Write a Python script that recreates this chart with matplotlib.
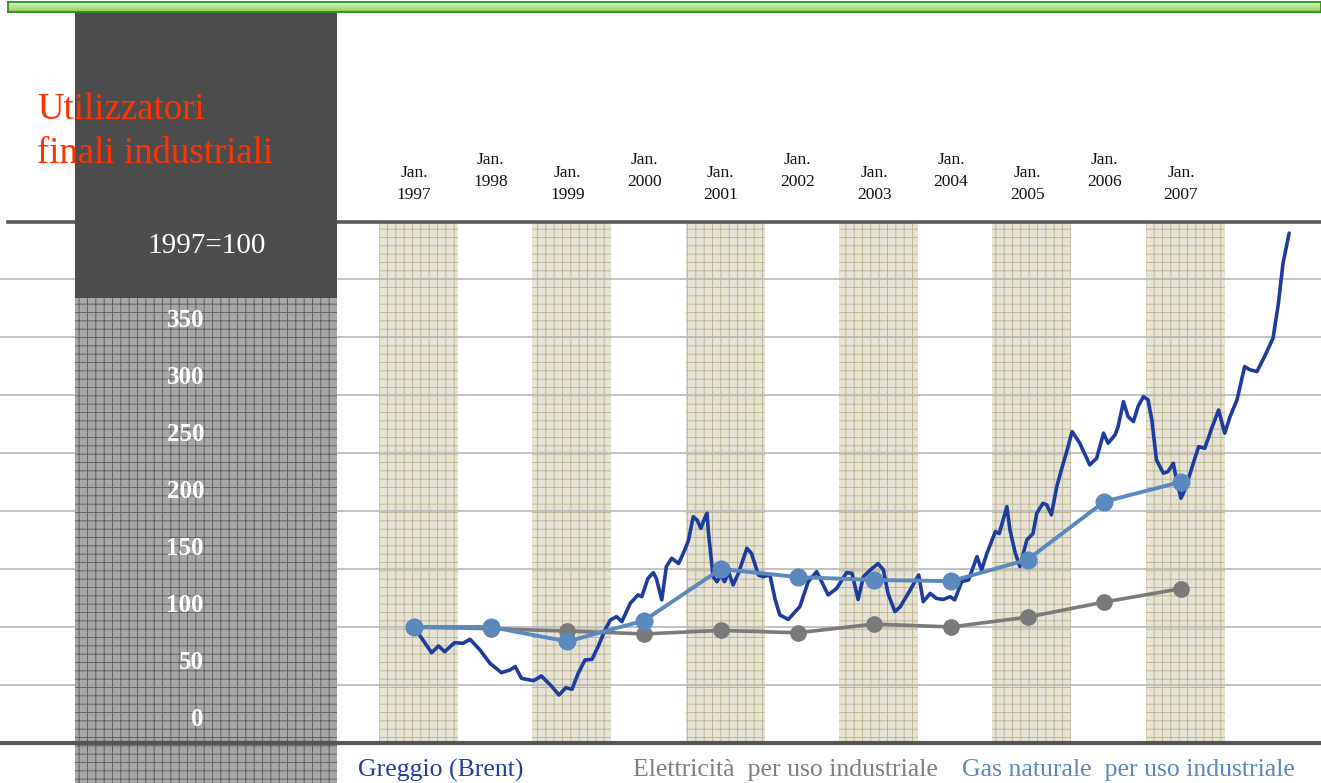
import matplotlib
matplotlib.use("Agg")
import numpy as np
import matplotlib.pyplot as plt
import matplotlib.transforms as mtrans
from matplotlib.patches import Rectangle
from matplotlib.lines import Line2D

plt.rcParams['font.family'] = ['Liberation Serif', 'DejaVu Serif']
plt.rcParams['hatch.linewidth'] = 0.65

# ---- data (1997 = 100) ----
years = [1997, 1998, 1999, 2000, 2001, 2002, 2003, 2004, 2005, 2006, 2007]
elettricita = [100, 98.5, 96.5, 94, 97, 95, 102.5, 100, 108.5, 121.5, 133]
gas_naturale = [100, 100, 87.5, 105.5, 150, 143, 140.5, 139.5, 158, 208, 225]

brent_year = [1997.00, 1997.23, 1997.32, 1997.40, 1997.53, 1997.64, 1997.73, 1997.86, 1997.99,
              1998.14, 1998.25, 1998.32, 1998.40, 1998.47, 1998.56, 1998.66, 1998.80, 1998.89, 1998.98,
              1999.06, 1999.14, 1999.23, 1999.32, 1999.40, 1999.49, 1999.56, 1999.64, 1999.71, 1999.82,
              1999.92, 1999.97, 2000.05, 2000.12, 2000.16, 2000.23, 2000.29, 2000.36, 2000.45, 2000.53,
              2000.58, 2000.64, 2000.69, 2000.74, 2000.79, 2000.82, 2000.84, 2000.90, 2000.95, 2001.00,
              2001.05, 2001.10, 2001.16, 2001.23, 2001.34, 2001.40, 2001.49, 2001.55, 2001.64, 2001.71,
              2001.77, 2001.88, 2002.03, 2002.14, 2002.25, 2002.40, 2002.51, 2002.64, 2002.71, 2002.79,
              2002.86, 2002.95, 2003.05, 2003.12, 2003.18, 2003.27, 2003.34, 2003.47, 2003.58, 2003.64,
              2003.73, 2003.81, 2003.90, 2003.99, 2004.05, 2004.14, 2004.23, 2004.34, 2004.40, 2004.47,
              2004.58, 2004.63, 2004.73, 2004.77, 2004.84, 2004.90, 2004.99, 2005.07, 2005.12, 2005.20,
              2005.25, 2005.31, 2005.38, 2005.44, 2005.51, 2005.58, 2005.68, 2005.81, 2005.90, 2005.99,
              2006.05, 2006.14, 2006.18, 2006.25, 2006.31, 2006.38, 2006.44, 2006.51, 2006.57, 2006.62,
              2006.68, 2006.77, 2006.83, 2006.90, 2006.94, 2007.00, 2007.05, 2007.12, 2007.16, 2007.23,
              2007.31, 2007.40, 2007.49, 2007.57, 2007.64, 2007.73, 2007.83, 2007.90, 2007.99, 2008.10,
              2008.20, 2008.27, 2008.33, 2008.41]
brent_val = [100, 77.8, 83.6, 78.7, 86.5, 85.9, 89.4, 80.2, 68.7,
             60.6, 62.9, 65.8, 55.8, 54.8, 53.7, 57.8, 48.5, 41.4, 47.7,
             46.3, 60.0, 71.6, 72.1, 83.0, 97.4, 106, 108.9, 104.6, 120.4,
             127.6, 126.1, 141.8, 146.8, 141.8, 123.3, 152, 159.2, 154.7, 166.4,
             175, 195, 192.2, 185, 193.7, 198, 180.5, 143.4, 139, 144.8,
             139, 147.7, 136.2, 146.3, 167.8, 163.5, 144.8, 143.4, 144.8, 123.3,
             110.3, 106.5, 117.5, 139, 147.7, 127.6, 133.2, 146.8, 146.3, 123.7,
             143.4, 149.1, 154.7, 149.1, 128.9, 113.2, 117.5, 131.9, 144.8, 121.8,
             128.9, 124.6, 123.7, 126.1, 123.3, 139, 140.5, 160.6, 149.1, 163.5,
             182.2, 180.5, 203.7, 183.6, 163.5, 152, 175, 180.5, 198, 206.6,
             205.2, 196.6, 220.9, 235.3, 251.1, 268.4, 258.4, 239.7, 245.4, 267,
             258.4, 265.5, 272.7, 294.2, 281.3, 277, 290, 298.5, 295.7, 278.4,
             244, 232.5, 233.9, 241.1, 226.7, 211, 218.1, 232.5, 241.1, 255.4,
             254, 271.2, 287, 267, 281.3, 295.7, 324.4, 321.6, 320.1, 334.5,
             348.9, 379, 413.4, 439.4]

y_ticks = [0, 50, 100, 150, 200, 250, 300, 350]
band_years = [1997, 1999, 2001, 2003, 2005, 2007]

c_brent = '#1e3c9e'
c_elet = '#7a7a7a'
c_gas = '#5b88bd'

W, H = 1321, 783
fig = plt.figure(figsize=(W / 100, H / 100), dpi=100)

# ---- main plot ----
ax = fig.add_axes([0, 40 / H, 1, 521 / H])
ax.set_zorder(0)
ax.set_xlim(1997 - 414 / 76.7, 1997 + (W - 414) / 76.7)
ax.set_ylim(0, 449)
ax.axis('off')

for y in range(50, 450, 50):
    ax.axhline(y, color='#b8b8b8', lw=1.2, zorder=2)
ax.axhline(449, xmin=8 / W, color='#5a5a5a', lw=2.6, zorder=3, clip_on=False)

for yr in band_years:
    ax.axvspan(yr - 0.46, yr + 0.57, facecolor='#e6e3d6', edgecolor='#bbb692',
               hatch='++', lw=0, zorder=1)

ax.plot(brent_year, brent_val, color=c_brent, lw=2.6, zorder=4,
        solid_joinstyle='round', solid_capstyle='round')
ax.plot(years, elettricita, color=c_elet, lw=2.6, marker='o', ms=11, zorder=5)
ax.plot(years, gas_naturale, color=c_gas, lw=2.8, marker='o', ms=12, zorder=6)

# year labels above the plot, alternating heights
for i, yr in enumerate(years):
    ybase = 465.5 if i % 2 == 0 else 476.5
    ax.text(yr, ybase, 'Jan.\n' + str(yr), ha='center', va='bottom', fontsize=12.5,
            linespacing=1.5, color='#111111', clip_on=False)

# ---- left panel ----
pan = fig.add_axes([75 / W, 0, 262 / W, 771 / H])
pan.set_zorder(1)
pan.set_xlim(0, 262)
pan.set_ylim(0, 771)
pan.axis('off')
pan.add_patch(Rectangle((0, 0), 262, 485, facecolor='#a6a6a6', edgecolor='#5e5e5e',
                        hatch='++', lw=0))
pan.add_patch(Rectangle((0, 485), 262, 286, facecolor='#4d4d4d', lw=0))
pan.text(132, 537, '1997=100', color='white', fontsize=21, ha='center', va='center')

tr = mtrans.blended_transform_factory(pan.transData, ax.transData)
for v in y_ticks:
    pan.text(129, v * 0.983 + 20, str(v), transform=tr, color='white', fontsize=18,
             fontweight='bold', ha='right', va='center')

# ---- top green bar (light gradient with dark green border) ----
bar = fig.add_axes([8 / W, (H - 12) / H, (W - 8) / W, 10 / H])
bar.set_zorder(2)
grad = np.linspace(0, 1, 10).reshape(-1, 1)
bar.imshow(grad, aspect='auto', cmap=matplotlib.colors.LinearSegmentedColormap.from_list(
    'g', ['#d9f2bd', '#8fcf5a']), extent=(0, 1, 0, 1))
bar.set_xticks([])
bar.set_yticks([])
for s in bar.spines.values():
    s.set_color('#2f8f1f')
    s.set_linewidth(1.3)

# bottom axis line (drawn over the panel)
fig.add_artist(Line2D([0, 1], [40 / H, 40 / H], transform=fig.transFigure,
                      color='#555555', lw=3, zorder=6))

# ---- titles and legend texts ----
fig.text(37 / W, (H - 119) / H, 'Utilizzatori', color='#ff3300', fontsize=26.5,
         va='baseline', ha='left', zorder=7)
fig.text(37 / W, (H - 163) / H, 'finali industriali', color='#ff3300', fontsize=26.5,
         va='baseline', ha='left', zorder=7)

fig.text(358 / W, (H - 770) / H, 'Greggio (Brent)', color='#233f9b', fontsize=18.5,
         va='center', ha='left')
fig.text(633 / W, (H - 770) / H, 'Elettricità  per uso industriale', color='#7f7f7f',
         fontsize=18.5, va='center', ha='left')
fig.text(962 / W, (H - 770) / H, 'Gas naturale  per uso industriale', color='#5b88bd',
         fontsize=18.5, va='center', ha='left')

fig.savefig('out.png', dpi=100)
